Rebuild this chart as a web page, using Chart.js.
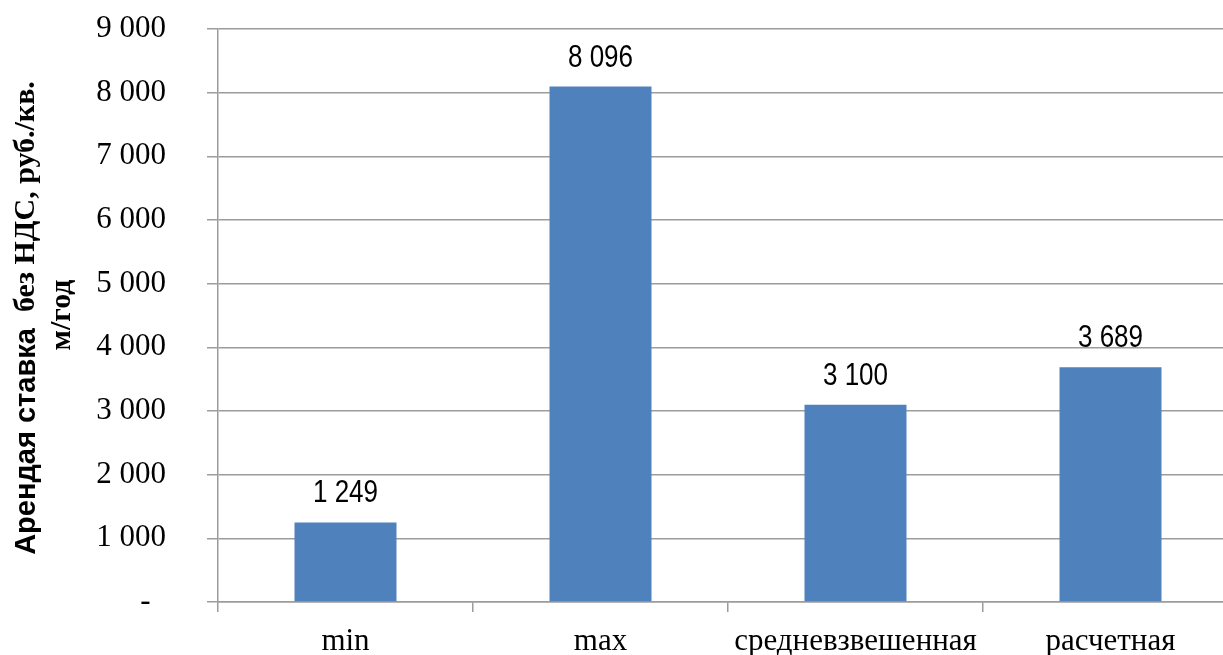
<!DOCTYPE html>
<html>
<head>
<meta charset="utf-8">
<script src="https://cdn.jsdelivr.net/npm/chart.js@4/dist/chart.umd.min.js"></script>
<style>
  html, body { margin: 0; padding: 0; background: #fff; overflow: hidden; }
  #wrap { width: 1246px; height: 655px; }
</style>
</head>
<body>
<div id="wrap"><canvas id="rent" width="1246" height="655"></canvas></div>
<script>
// categories and values
var categories = ["min", "max", "средневзвешенная", "расчетная"];
var rentValues = [1249, 8096, 3100, 3689];
var yMin = 0, yMax = 9000, yStep = 1000;

var titleSans = "Арендая ставка  ";
var titleSerif = "без НДС, руб./кв.";
var titleLine2 = "м/год";

var GRID = "#9c9c9c";
var SERIF = "'Liberation Serif', 'Times New Roman', serif";
var SANS = "'Liberation Sans', Arial, sans-serif";

function fmt(v) {
  return String(v).replace(/\B(?=(\d{3})+(?!\d))/g, " ");
}

// rotated axis title, first line mixes a sans and a serif run
var yTitlePlugin = {
  id: "yTitle",
  afterDraw: function (chart) {
    var ctx = chart.ctx;
    ctx.save();
    ctx.fillStyle = "#000";
    ctx.textBaseline = "middle";
    ctx.rotate(-Math.PI / 2);
    var fSans = "bold 29px " + SANS;
    var fSerif = "bold 30px " + SERIF;
    ctx.font = fSans;
    var w1 = ctx.measureText(titleSans).width;
    ctx.font = fSerif;
    var w2 = ctx.measureText(titleSerif).width;
    var start = -318 - (w1 + w2) / 2;
    ctx.textAlign = "left";
    ctx.font = fSans;
    ctx.fillText(titleSans, start, 27);
    ctx.font = fSerif;
    ctx.fillText(titleSerif, start + w1, 26);
    ctx.textAlign = "center";
    ctx.fillText(titleLine2, -315, 62);
    ctx.restore();
  }
};

// value labels over the bars, narrowed sans
var valueLabels = {
  id: "valueLabels",
  afterDatasetsDraw: function (chart) {
    var ctx = chart.ctx;
    var meta = chart.getDatasetMeta(0);
    ctx.save();
    ctx.font = "31px " + SANS;
    ctx.fillStyle = "#000";
    ctx.textAlign = "center";
    ctx.textBaseline = "alphabetic";
    meta.data.forEach(function (bar, i) {
      ctx.save();
      ctx.translate(bar.x, bar.y - 20);
      ctx.scale(0.84, 1);
      ctx.fillText(fmt(rentValues[i]), 0, 0);
      ctx.restore();
    });
    ctx.restore();
  }
};

new Chart(document.getElementById("rent"), {
  type: "bar",
  data: {
    labels: categories,
    datasets: [{
      data: rentValues,
      backgroundColor: "#4F81BD",
      borderWidth: 0,
      categoryPercentage: 1,
      barPercentage: 0.4
    }]
  },
  options: {
    responsive: false,
    devicePixelRatio: 1,
    animation: false,
    layout: { padding: { top: 29, right: 8, left: 0, bottom: 0 } },
    plugins: {
      legend: { display: false },
      tooltip: { enabled: false }
    },
    scales: {
      x: {
        offset: true,
        grid: { offset: true, drawOnChartArea: false, color: GRID, lineWidth: 1.5, tickLength: 10 },
        border: { color: GRID, width: 1.5 },
        ticks: { color: "#000", font: { family: SERIF, size: 31 }, padding: 11, maxRotation: 0 },
        afterFit: function (s) { s.height = 53; }
      },
      y: {
        min: yMin,
        max: yMax,
        grid: { color: GRID, lineWidth: 1.5, tickLength: 11 },
        border: { color: GRID, width: 1.5 },
        ticks: {
          stepSize: yStep,
          color: "#000",
          font: { family: SERIF, size: 31 },
          padding: 41,
          callback: function (v) { return v === 0 ? "-  " : fmt(v); }
        },
        afterFit: function (s) {
          s.width = 218;
          // labels may overhang the plot; keep the plot edges fixed
          s.paddingTop = 0;
          s.paddingBottom = 0;
        }
      }
    }
  },
  plugins: [yTitlePlugin, valueLabels]
});
</script>
</body>
</html>
